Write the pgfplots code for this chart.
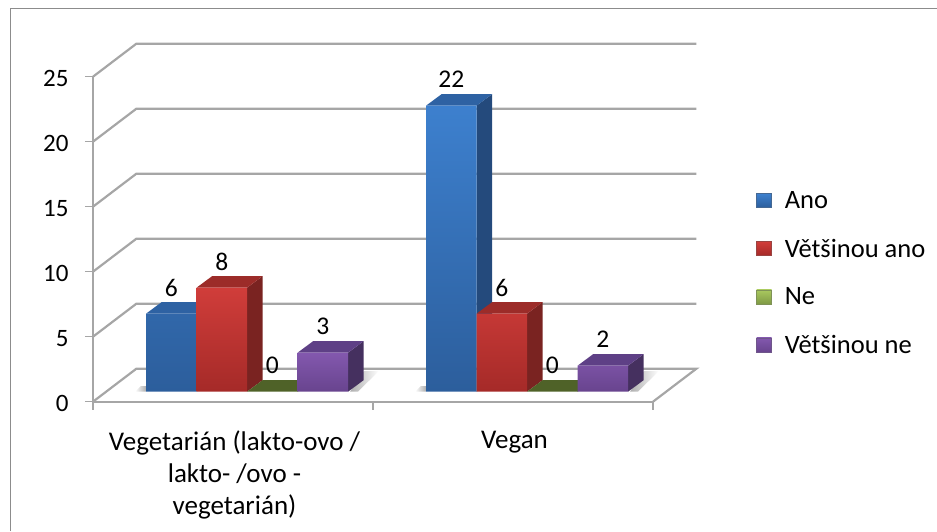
\documentclass[border=0pt]{standalone}
\usepackage{fontspec}
\setmainfont{Carlito}
\usepackage{pgfplots}
\usepackage{pgfplotstable}
\pgfplotsset{compat=1.18}

\definecolor{gridgray}{HTML}{A6A6A6}
\definecolor{framegray}{HTML}{8C8C8C}
\definecolor{blueA}{HTML}{3D80CE}\definecolor{blueB}{HTML}{2C5E9C}
\definecolor{blueT}{HTML}{2E62A3}\definecolor{blueS}{HTML}{244A7C}
\definecolor{redA}{HTML}{D03D3A}\definecolor{redB}{HTML}{A52A28}
\definecolor{redT}{HTML}{9C2C29}\definecolor{redS}{HTML}{7A2321}
\definecolor{greenA}{HTML}{A9C95F}\definecolor{greenB}{HTML}{7F9A45}
\definecolor{greenT}{HTML}{4F6228}\definecolor{greenS}{HTML}{3F4F20}
\definecolor{purpleA}{HTML}{8358AE}\definecolor{purpleB}{HTML}{68448E}
\definecolor{purpleT}{HTML}{5E4086}\definecolor{purpleS}{HTML}{45305F}

% Answer counts per diet group
\pgfplotstableread{
cat value
0 6
1 22
}\seriesAno
\pgfplotstableread{
cat value
0 8
1 6
}\seriesMostlyYes
\pgfplotstableread{
cat value
0 0
1 0
}\seriesNe
\pgfplotstableread{
cat value
0 3
1 2
}\seriesMostlyNo

% Oblique depth of one bar, and the height of its base above the front edge
\newcommand\depthx{0.0554}
\newcommand\depthy{0.885}
\newcommand\basey{0.769}

% Top and side faces of one bar: table, series index, row, top colour, side colour
\newcommand\barfaces[5]{%
  \pgfplotstablegetelem{#3}{value}\of{#1}%
  \pgfmathsetmacro\yt{\pgfplotsretval+\basey}%
  \pgfmathsetmacro\xl{#3+0.1893+0.1804*#2}%
  \pgfmathsetmacro\xr{\xl+0.1804}%
  \pgfmathsetmacro\xlb{\xl+\depthx}%
  \pgfmathsetmacro\xrb{\xr+\depthx}%
  \pgfmathsetmacro\ytb{\yt+\depthy}%
  \pgfmathsetmacro\ybb{\basey+\depthy}%
  \addplot[draw=none,fill=#5,forget plot] coordinates {(\xr,\basey)(\xr,\yt)(\xrb,\ytb)(\xrb,\ybb)};
  \addplot[draw=none,fill=#4,forget plot] coordinates {(\xl,\yt)(\xr,\yt)(\xrb,\ytb)(\xlb,\ytb)};
}
% One whole series: table, series index, colour stem
\newcommand\barseries[3]{%
  \barfaces{#1}{#2}{0}{#3T}{#3S}%
  \barfaces{#1}{#2}{1}{#3T}{#3S}%
  \pgfmathsetmacro\shiftpt{78.25+50.5*#2}%
  \edef\doplot{\noexpand\addplot[ybar,bar width=50.5pt,bar shift=\shiftpt pt,yshift=10pt,draw=none,
    top color=#3A,bottom color=#3B,
    legend image code/.code={\noexpand\path[top color=#3A,bottom color=#3B,draw=#3B!70!gray,line width=.6pt] (0pt,-17pt) rectangle (15pt,-3pt);},
    nodes near coords,nodes near coords style={xshift=\shiftpt pt}] table[x=cat,y=value] {\noexpand#1};}%
  \doplot
}
% Soft shadow cast on the floor: dark end colour, light end colour, outline
\newcommand\floorshadow[3]{%
  \addplot[draw=none,left color=#1,right color=#2,forget plot] coordinates {#3};
}

\begin{document}
\begin{tikzpicture}[x=1pt,y=1pt]
\useasboundingbox (0,0) rectangle (937,531);
\draw[framegray,line width=1.6pt] (10.5,0) -- (10.5,522.5) -- (937,522.5);
\begin{axis}[
  at={(93pt,129.3pt)},anchor=south west,
  scale only axis,width=560pt,height=325pt,
  xmin=0,xmax=2,ymin=0,ymax=25,clip=false,
  axis x line=bottom,axis y line=left,
  axis line style={-,draw=gridgray,line width=2.2pt},
  /pgf/number format/assume math mode=true,
  xtick={0,1,2},xticklabels={},
  extra x ticks={0.5,1.5},
  extra x tick labels={{Vegetarián (lakto-ovo /\\lakto- /ovo -\\vegetarián)},{Vegan}},
  extra x tick style={major tick length=0pt,tick label style={align=center,anchor=north,xshift=1.5pt,yshift=-26pt,font=\fontsize{27}{32}\selectfont}},
  ytick={0,5,10,15,20,25},
  tick style={draw=gridgray,line width=1.4pt},
  major tick length=8pt,
  tick align=outside,
  y tick label style={xshift=-13pt,yshift=-2pt},
  tick label style={font=\fontsize{25}{32}\selectfont,text=black},
  nodes near coords style={anchor=center,yshift=26pt,font=\fontsize{25.5}{28}\selectfont,text=black},
  legend style={at={(1.184,0.654)},anchor=north west,draw=none,fill=none,
    font=\fontsize{26.5}{28}\selectfont,row sep=25pt,inner sep=0pt,
    /tikz/every odd column/.append style={column sep=11pt}},
  legend cell align=left,
]
% Shadows beside each group of bars
\floorshadow{white}{black!32}{(0.150,0.769)(0.189,0.769)(0.189,1.2)(0.171,1.2)}
\floorshadow{black!32}{white}{(0.918,0.769)(0.946,0.769)(1.021,2.36)(0.968,2.36)}
\floorshadow{white}{black!32}{(1.150,0.769)(1.189,0.769)(1.189,1.2)(1.171,1.2)}
\floorshadow{black!32}{white}{(1.918,0.769)(1.946,0.769)(2.021,2.36)(1.968,2.36)}
% Back wall gridlines with their diagonals, and the floor
\addplot[gridgray,line width=2.2pt,forget plot] coordinates {(0,25)(0.155,27.54)(2.155,27.54)};
\addplot[gridgray,line width=2.2pt,forget plot] coordinates {(0,20)(0.155,22.54)(2.155,22.54)};
\addplot[gridgray,line width=2.2pt,forget plot] coordinates {(0,15)(0.155,17.54)(2.155,17.54)};
\addplot[gridgray,line width=2.2pt,forget plot] coordinates {(0,10)(0.155,12.54)(2.155,12.54)};
\addplot[gridgray,line width=2.2pt,forget plot] coordinates {(0,5)(0.155,7.54)(2.155,7.54)};
\addplot[gridgray,line width=2.2pt,forget plot] coordinates {(0,0)(0.155,2.54)(2.155,2.54)(2,0)};
% The four answer series, back to front of the drawing order
\barseries{\seriesAno}{0}{blue}
\addlegendentry{Ano}
\barseries{\seriesMostlyYes}{1}{red}
\addlegendentry{Většinou ano}
\barseries{\seriesNe}{2}{green}
\addlegendentry{Ne}
\barseries{\seriesMostlyNo}{3}{purple}
\addlegendentry{Většinou ne}
\end{axis}
\end{tikzpicture}
\end{document}
